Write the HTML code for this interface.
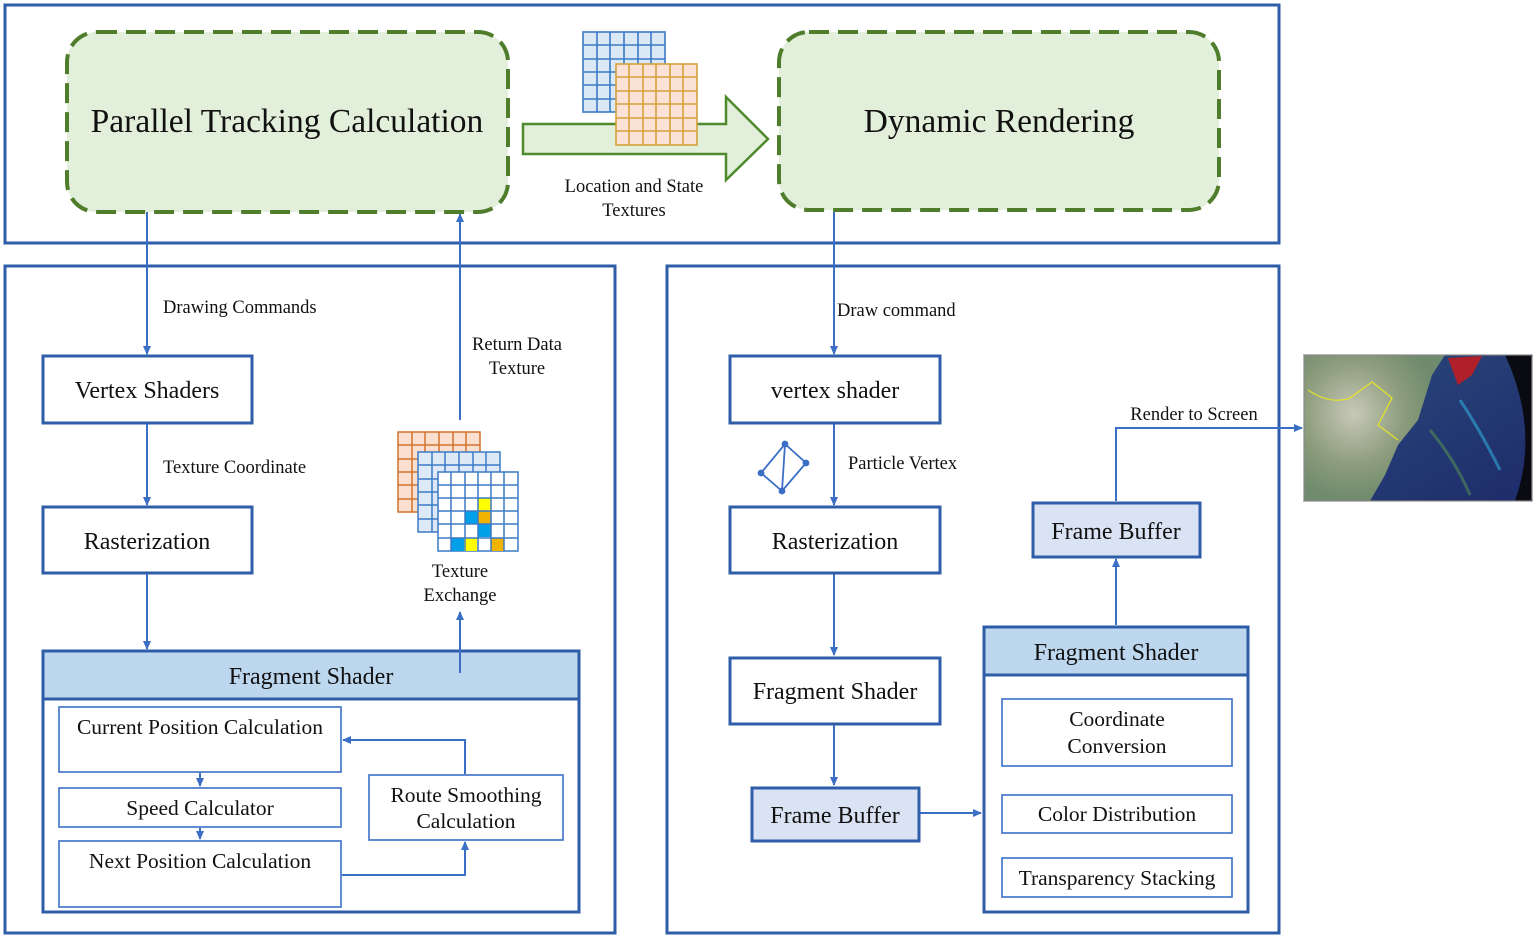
<!DOCTYPE html>
<html><head><meta charset="utf-8"><style>
html,body{margin:0;padding:0;background:#fff}
svg{display:block}
text{font-family:"Liberation Serif",serif;fill:#111}
</style></head><body>
<svg width="1535" height="937" viewBox="0 0 1535 937" xmlns="http://www.w3.org/2000/svg">
<defs>
<marker id="ar" markerWidth="10" markerHeight="10" refX="8" refY="5" orient="auto" markerUnits="userSpaceOnUse"><path d="M0,1 L9,5 L0,9 z" fill="#3b6fc6"/></marker>
<linearGradient id="sea" x1="0" y1="0" x2="1" y2="1"><stop offset="0" stop-color="#2c4a7e"/><stop offset="1" stop-color="#1d2c6a"/></linearGradient>
<radialGradient id="land" cx="0.35" cy="0.4" r="0.6"><stop offset="0" stop-color="#c8c8b8"/><stop offset="0.6" stop-color="#8c9c7c"/><stop offset="1" stop-color="#6f8a6c"/></radialGradient>
</defs>
<g fill="none" stroke="#2f5ea8" stroke-width="3">
<rect x="5" y="5" width="1274" height="238"/>
<rect x="5" y="266" width="610" height="667"/>
<rect x="667" y="266" width="612" height="667"/>
</g>
<rect x="67" y="32" width="441" height="180" rx="30" fill="#e2efda" stroke="#4f7d2c" stroke-width="4" stroke-dasharray="20,9"/>
<rect x="779" y="32" width="440" height="178" rx="30" fill="#e2efda" stroke="#4f7d2c" stroke-width="4" stroke-dasharray="20,9"/>
<text x="287" y="132" font-size="33.5" text-anchor="middle">Parallel Tracking Calculation</text>
<text x="999" y="132" font-size="33.5" text-anchor="middle">Dynamic Rendering</text>
<path d="M523,124 L726,124 L726,97 L768,139 L726,180 L726,154 L523,154 z" fill="#e2efda" stroke="#4f8a2c" stroke-width="2.5"/>
<g stroke="#3b7ac6" stroke-width="1.6" fill="#dbe8f6">
<rect x="583" y="32" width="82" height="80"/>
<path d="M597,32V112M610,32V112M624,32V112M638,32V112M651,32V112M583,45H665M583,59H665M583,72H665M583,85H665M583,99H665" fill="none"/>
</g>
<g stroke="#d5a13a" stroke-width="1.6" fill="#fbe2d6">
<rect x="616" y="64" width="81" height="81"/>
<path d="M629,64V145M643,64V145M656,64V145M670,64V145M683,64V145M616,77H697M616,91H697M616,104H697M616,118H697M616,131H697" fill="none"/>
</g>
<text x="634" y="192" font-size="18.5" text-anchor="middle">Location and State</text>
<text x="634" y="216" font-size="18.5" text-anchor="middle">Textures</text>

<g fill="#fff" stroke="#2f5ea8" stroke-width="3">
<rect x="43" y="356" width="209" height="67"/>
<rect x="43" y="507" width="209" height="66"/>
<rect x="43" y="699" width="536" height="213"/>
</g>
<rect x="43" y="651" width="536" height="48" fill="#bdd7ee" stroke="#2f5ea8" stroke-width="3"/>
<g font-size="24" text-anchor="middle">
<text x="147" y="398">Vertex Shaders</text>
<text x="147" y="549">Rasterization</text>
<text x="311" y="684">Fragment Shader</text>
</g>
<g fill="#fff" stroke="#3b6fc6" stroke-width="1.6">
<rect x="59" y="707" width="282" height="65"/>
<rect x="59" y="788" width="282" height="39"/>
<rect x="59" y="841" width="282" height="66"/>
<rect x="369" y="775" width="194" height="65"/>
</g>
<g font-size="21.5" text-anchor="middle">
<text x="200" y="734">Current Position Calculation</text>
<text x="200" y="815">Speed Calculator</text>
<text x="200" y="868">Next Position Calculation</text>
<text x="466" y="802">Route Smoothing</text>
<text x="466" y="828">Calculation</text>
</g>
<g stroke="#3b6fc6" stroke-width="2" fill="none" marker-end="url(#ar)">
<path d="M147,212 V354"/>
<path d="M147,424 V505"/>
<path d="M147,574 V649"/>
<path d="M460,673 V612"/>
<path d="M460,420 V214"/>
<path d="M200,773 V786"/>
<path d="M200,828 V839"/>
<path d="M342,875 H465 V842"/>
<path d="M465,774 V740 H343"/>
<path d="M834,212 V354"/>
<path d="M834,424 V505"/>
<path d="M834,574 V655"/>
<path d="M834,725 V785"/>
<path d="M920,813 H981"/>
<path d="M1116,625 V559"/>
<path d="M1116,501 V428 H1302"/>
</g>
<g font-size="18.5">
<text x="163" y="313">Drawing Commands</text>
<text x="163" y="473">Texture Coordinate</text>
<text x="517" y="350" text-anchor="middle">Return Data</text>
<text x="517" y="374" text-anchor="middle">Texture</text>
<text x="460" y="577" text-anchor="middle">Texture</text>
<text x="460" y="601" text-anchor="middle">Exchange</text>
<text x="837" y="316">Draw command</text>
<text x="848" y="469">Particle Vertex</text>
<text x="1194" y="420" text-anchor="middle">Render to Screen</text>
</g>
<g stroke="#d2732e" stroke-width="1.5" fill="#fbe0d0">
<rect x="398" y="432" width="82" height="80"/>
<path d="M412,432V512M425,432V512M439,432V512M453,432V512M466,432V512M398,445H480M398,459H480M398,472H480M398,485H480M398,499H480" fill="none"/>
</g>
<g stroke="#3b7ac6" stroke-width="1.5" fill="#dde9f6">
<rect x="418" y="452" width="82" height="80"/>
<path d="M432,452V532M445,452V532M459,452V532M473,452V532M486,452V532M418,465H500M418,479H500M418,492H500M418,505H500M418,519H500" fill="none"/>
</g>
<g stroke="#3b7ac6" stroke-width="1.5" fill="#fff">
<rect x="438" y="472" width="80" height="79"/>
<rect x="478" y="498" width="13" height="13" fill="#ffff00" stroke="none"/>
<rect x="465" y="511" width="13" height="13" fill="#00a0e8" stroke="none"/>
<rect x="478" y="511" width="13" height="13" fill="#f0b400" stroke="none"/>
<rect x="478" y="524" width="13" height="13" fill="#00a0e8" stroke="none"/>
<rect x="451" y="538" width="13" height="13" fill="#00a0e8" stroke="none"/>
<rect x="464" y="538" width="13" height="13" fill="#ffff00" stroke="none"/>
<rect x="491" y="538" width="13" height="13" fill="#f0b400" stroke="none"/>
<path d="M451,472V551M465,472V551M478,472V551M491,472V551M504,472V551M438,485H518M438,498H518M438,511H518M438,524H518M438,538H518" fill="none"/>
</g>

<g fill="#fff" stroke="#2f5ea8" stroke-width="3">
<rect x="730" y="356" width="210" height="67"/>
<rect x="730" y="507" width="210" height="66"/>
<rect x="730" y="658" width="210" height="66"/>
<rect x="984" y="675" width="264" height="237"/>
</g>
<g fill="#dae3f3" stroke="#2f5ea8" stroke-width="3">
<rect x="752" y="788" width="167" height="53"/>
<rect x="1033" y="503" width="167" height="54"/>
<rect x="984" y="627" width="264" height="48" fill="#bdd7ee"/>
</g>
<g font-size="24" text-anchor="middle">
<text x="835" y="398">vertex shader</text>
<text x="835" y="549">Rasterization</text>
<text x="835" y="699">Fragment Shader</text>
<text x="835" y="823">Frame Buffer</text>
<text x="1116" y="539">Frame Buffer</text>
<text x="1116" y="660">Fragment Shader</text>
</g>
<g fill="#fff" stroke="#3b6fc6" stroke-width="1.6">
<rect x="1002" y="699" width="230" height="67"/>
<rect x="1002" y="795" width="230" height="38"/>
<rect x="1002" y="858" width="230" height="39"/>
</g>
<g font-size="21.5" text-anchor="middle">
<text x="1117" y="726">Coordinate</text>
<text x="1117" y="753">Conversion</text>
<text x="1117" y="821">Color Distribution</text>
<text x="1117" y="885">Transparency Stacking</text>
</g>
<g stroke="#3b6fc6" stroke-width="1.8" fill="#3b6fc6">
<path d="M785,444 L806,463 L782,491 L761,473 Z M785,444 L782,491" fill="none"/>
<circle cx="785" cy="444" r="2.5"/><circle cx="806" cy="463" r="2.5"/><circle cx="782" cy="491" r="2.5"/><circle cx="761" cy="473" r="2.5"/>
</g>
<rect x="1304" y="355" width="228" height="146" fill="url(#sea)"/>
<path d="M1304,355 H1445 L1432,375 L1418,420 L1398,445 L1385,475 L1370,501 H1304 Z" fill="url(#land)"/>
<path d="M1448,358 L1458,385 L1472,375 L1482,356 Z" fill="#b0202a"/>
<path d="M1505,355 L1532,355 L1532,501 L1515,501 Q1540,430 1505,355Z" fill="#0a0a12"/>
<path d="M1308,390 Q1330,405 1350,398 L1372,382 L1392,398 L1378,425 L1398,440" fill="none" stroke="#e0e030" stroke-width="1.3"/>
<path d="M1460,400 Q1480,430 1500,470" fill="none" stroke="#30a8d8" stroke-width="3" opacity="0.6"/>
<path d="M1430,430 Q1455,460 1470,495" fill="none" stroke="#5a9a50" stroke-width="3" opacity="0.5"/>
<rect x="1304" y="355" width="228" height="146" fill="none" stroke="#888" stroke-width="2" opacity="0.6"/>
</svg>
</body></html>
